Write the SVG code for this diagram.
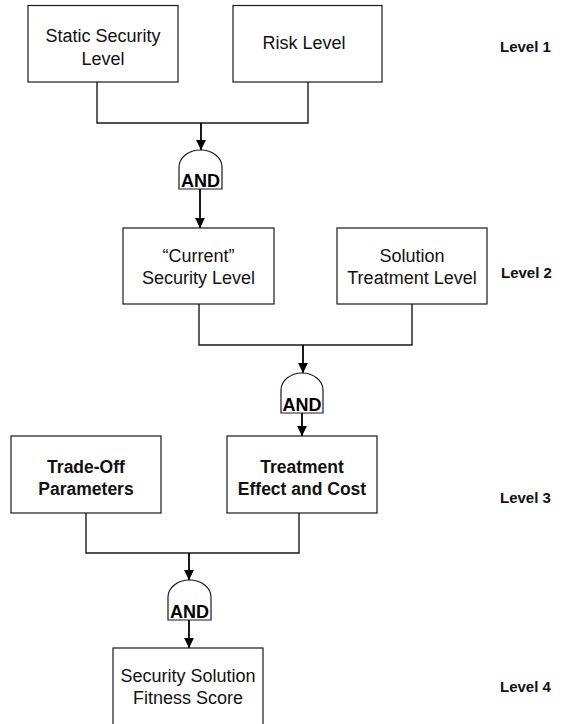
<svg xmlns="http://www.w3.org/2000/svg" width="563" height="724" viewBox="0 0 563 724">
  <defs>
    <style>
      .box { fill: #ffffff; stroke: #1a1a1a; stroke-width: 1.2; }
      .gate { fill: #ffffff; stroke: #1a1a1a; stroke-width: 1.2; }
      .wire { fill: none; stroke: #1a1a1a; stroke-width: 1.4; }
      .arrow { fill: none; stroke: #000000; stroke-width: 1.8; marker-end: url(#head); }
      .lbl { font-family: "Liberation Sans", Arial, sans-serif; font-size: 18px; fill: #111; text-anchor: middle; }
      .lblb { font-family: "Liberation Sans", Arial, sans-serif; font-size: 17.5px; font-weight: bold; fill: #111; text-anchor: middle; }
      .and { font-family: "Liberation Sans", Arial, sans-serif; font-size: 18px; font-weight: bold; fill: #000; text-anchor: middle; }
      .lvl { font-family: "Liberation Sans", Arial, sans-serif; font-size: 15px; font-weight: bold; fill: #111; }
    </style>
    <marker id="head" viewBox="0 0 10 10" refX="10" refY="5" markerWidth="5.5" markerHeight="5.5" orient="auto" markerUnits="strokeWidth">
      <path d="M0,0 L10,5 L0,10 Z" fill="#000"/>
    </marker>
  </defs>

  <!-- connectors -->
  <g id="connectors">
    <polyline class="wire" points="97,82 97,123 308,123 308,82"/>
    <line class="arrow" x1="201" y1="123" x2="201" y2="150"/>
    <line class="arrow" x1="200" y1="189" x2="200" y2="228"/>

    <polyline class="wire" points="199,304 199,345 412,345 412,304"/>
    <line class="arrow" x1="303" y1="345" x2="303" y2="373"/>
    <line class="arrow" x1="302" y1="413" x2="302" y2="436"/>

    <polyline class="wire" points="86,513 86,553 299,553 299,513"/>
    <line class="arrow" x1="189" y1="553" x2="189" y2="580"/>
    <line class="arrow" x1="189" y1="620" x2="189" y2="648"/>
  </g>

  <!-- level 1 -->
  <g id="static-security-level">
    <rect class="box" x="28" y="5.5" width="150" height="76.5"/>
    <text class="lbl" x="103" y="42">Static Security</text>
    <text class="lbl" x="103" y="65">Level</text>
  </g>
  <g id="risk-level">
    <rect class="box" x="233" y="5.5" width="149" height="76.5"/>
    <text class="lbl" x="304" y="48.5">Risk Level</text>
  </g>
  <g id="and-1">
    <path class="gate" d="M179,189 V167 A21.5,17 0 0 1 222,167 V189 Z"/>
    <text class="and" x="200.5" y="187">AND</text>
  </g>

  <!-- level 2 -->
  <g id="current-security-level">
    <rect class="box" x="123" y="228" width="151" height="76"/>
    <text class="lbl" x="198.5" y="262">“Current”</text>
    <text class="lbl" x="198.5" y="284">Security Level</text>
  </g>
  <g id="solution-treatment-level">
    <rect class="box" x="337" y="228" width="150" height="76"/>
    <text class="lbl" x="412" y="262">Solution</text>
    <text class="lbl" x="412" y="284">Treatment Level</text>
  </g>
  <g id="and-2">
    <path class="gate" d="M281,413 V390 A21,17 0 0 1 323,390 V413 Z"/>
    <text class="and" x="302" y="411">AND</text>
  </g>

  <!-- level 3 -->
  <g id="trade-off-parameters">
    <rect class="box" x="11" y="436" width="150" height="77"/>
    <text class="lblb" x="86" y="473">Trade-Off</text>
    <text class="lblb" x="86" y="495">Parameters</text>
  </g>
  <g id="treatment-effect-cost">
    <rect class="box" x="227" y="436" width="150" height="77"/>
    <text class="lblb" x="302" y="473">Treatment</text>
    <text class="lblb" x="302" y="495">Effect and Cost</text>
  </g>
  <g id="and-3">
    <path class="gate" d="M168,620 V597 A21.5,17 0 0 1 211,597 V620 Z"/>
    <text class="and" x="189.5" y="618">AND</text>
  </g>

  <!-- level 4 (box runs past the lower edge) -->
  <g id="fitness-score">
    <rect class="box" x="113" y="648" width="150" height="82"/>
    <text class="lbl" x="188" y="682">Security Solution</text>
    <text class="lbl" x="188" y="704">Fitness Score</text>
  </g>

  <!-- level captions -->
  <g id="level-captions">
    <text class="lvl" x="500" y="52">Level 1</text>
    <text class="lvl" x="501" y="278">Level 2</text>
    <text class="lvl" x="500" y="503">Level 3</text>
    <text class="lvl" x="500" y="692">Level 4</text>
  </g>
</svg>
